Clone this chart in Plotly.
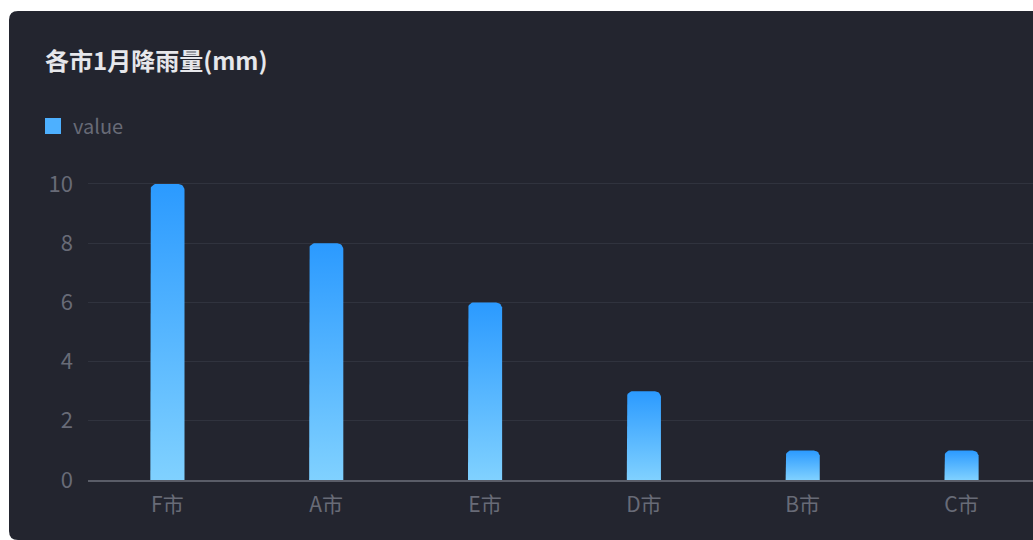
import numpy as np
import plotly.graph_objects as go

# ---- data ----
cities = ["F市", "A市", "E市", "D市", "B市", "C市"]
values = [10, 8, 6, 3, 1, 1]
y_ticks = [0, 2, 4, 6, 8, 10]
title_text = "各市1月降雨量(mm)"
series_name = "value"

# ---- layout constants (window coords; body margin removed below) ----
W, H = 1033, 540
L, R, T, B = 88, 0, 181, 60
PW, PH = W - L - R, H - T - B
XR = [-0.5, 5.45]
YR = [0, 10.1]
BAR_W = 0.215
RAD = 6  # px corner radius

PANEL = "#23252f"
GRID = "#30333e"
AXIS = "#5a5d68"
TICK = "#686b77"
FONT = "Noto Sans CJK SC, Noto Sans, sans-serif"

px_x = PW / (XR[1] - XR[0])
px_y = PH / (YR[1] - YR[0])


def to_px(px, py):
    return (px - L) / PW, 1 - (py - T) / PH


fig = go.Figure()

# bars with vertical gradient + rounded top corners
theta = np.linspace(0, np.pi / 2, 9)
for i, v in enumerate(values):
    x0, x1 = i - BAR_W / 2, i + BAR_W / 2
    rx, ry = RAD / px_x, RAD / px_y
    xs = [x0]
    ys = [0]
    xs += list(x0 + rx - rx * np.cos(theta))
    ys += list(v - ry + ry * np.sin(theta))
    xs += list(x1 - rx + rx * np.sin(theta))
    ys += list(v - ry + ry * np.cos(theta))
    xs += [x1, x0]
    ys += [0, 0]
    fig.add_trace(go.Scatter(
        x=xs, y=ys, mode="lines", fill="toself",
        line=dict(width=0, color="rgba(0,0,0,0)"),
        fillgradient=dict(type="vertical",
                          colorscale=[[0, "#80d1ff"], [1, "#2b9aff"]],
                          start=0, stop=v),
        showlegend=False, hoverinfo="skip",
    ))

# legend entry
fig.add_trace(go.Scatter(
    x=[None], y=[None], mode="markers", name=series_name,
    marker=dict(symbol="square", size=16, color="#4db0ff"),
))

# dark panel with rounded left corners
px0, py0, px1, py1, r = 9, 11, W + 5, H, 9
ax, ay = to_px(px0, py0)
bx, by = to_px(px1, py1)
rxp, ryp = r / PW, r / PH
path = (f"M {ax+rxp},{ay} L {bx},{ay} L {bx},{by} L {ax+rxp},{by} "
        f"Q {ax},{by} {ax},{by+ryp} L {ax},{ay-ryp} Q {ax},{ay} {ax+rxp},{ay} Z")
fig.add_shape(type="path", path=path, xref="paper", yref="paper",
              fillcolor=PANEL, line=dict(width=0), layer="below")

lx, ly = to_px(33, 126)
fig.update_layout(
    width=W, height=H,
    margin=dict(l=L, r=R, t=T, b=B, pad=0),
    paper_bgcolor="white",
    plot_bgcolor=PANEL,
    font=dict(family=FONT, color=TICK),
    title=dict(text=title_text, x=45 / W, xanchor="left",
               y=1 - 62 / H, yanchor="middle",
               font=dict(size=24, color="#e6e7eb", family=FONT, weight="bold")),
    legend=dict(orientation="h", x=lx, xanchor="left", y=ly, yanchor="middle",
                font=dict(size=20, color=TICK), bgcolor="rgba(0,0,0,0)",
                itemwidth=30),
    xaxis=dict(range=XR, tickvals=list(range(len(cities))), ticktext=cities,
               showgrid=False, zeroline=False, showline=True,
               linecolor=AXIS, linewidth=2, ticks="",
               tickfont=dict(size=21, color=TICK), ticklabelstandoff=5,
               fixedrange=True),
    yaxis=dict(range=YR, tickvals=y_ticks, showgrid=True, gridcolor=GRID,
               gridwidth=1, zeroline=False, showline=False, ticks="",
               tickfont=dict(size=22, color=TICK), ticklabelstandoff=14,
               fixedrange=True),
)

fig.write_html(
    "out.html",
    config={"displayModeBar": False},
    post_script="document.body.style.margin='0';document.body.style.overflow='hidden';",
)
